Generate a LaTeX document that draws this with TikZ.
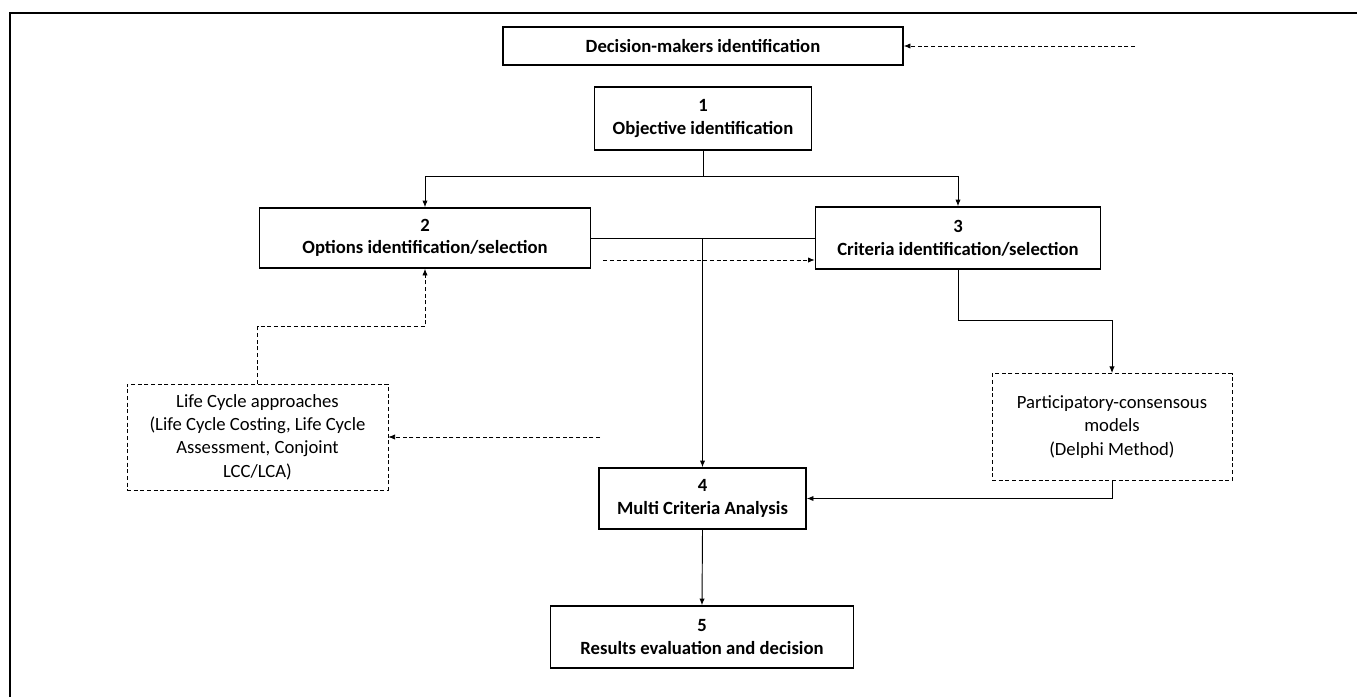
\documentclass[tikz,border=0pt]{standalone}
\usepackage{fontspec}
\setmainfont{Carlito}
\usepackage{tikz}
\usetikzlibrary{arrows.meta}
\usetikzlibrary{positioning}
\tikzset{
    stepbox/.style = {draw,line width=1.2pt,align=center,inner sep=0,font=\fontsize{14}{17}\selectfont\bfseries},
    toolbox/.style = {draw,densely dashed,line width=0.6pt,align=center,inner sep=0,font=\fontsize{14}{17.5}\selectfont}
}
\tikzset{
    flow/.style = {line width=0.7pt,-{Latex[length=5pt,width=4pt]}},
    hint/.style = {line width=0.6pt,densely dashed,-{Latex[length=5pt,width=4pt]}},
    frame/.style = {line width=1.5pt}
}

\begin{document}
\begin{tikzpicture}[x=0.75pt,y=-0.75pt]
    \useasboundingbox (0,0) rectangle (1357,697);
    \draw[frame] (10,697) -- (10,13) -- (1357,13);
    % Steps
    \node[stepbox,minimum width=300pt,minimum height=28.5pt] (dm) at (703,46) {Decision-makers identification};
    \node[stepbox,minimum width=162.75pt,minimum height=47.25pt] (obj) at (703,118.5) {1\\Objective identification};
    \node[stepbox,minimum width=248.25pt,minimum height=45pt] (opt) at (425,238) {2\\Options identification/selection};
    \node[stepbox,minimum width=213.75pt,minimum height=46.5pt] (crit) at (958,238) {3\\Criteria identification/selection};
    \node[stepbox,minimum width=155.25pt,minimum height=45.75pt] (mca) at (702.5,498.5) {4\\Multi Criteria Analysis};
    \node[stepbox,minimum width=227.25pt,minimum height=46.5pt] (res) at (702,637) {5\\Results evaluation and decision};
    % Supporting methods
    \node[toolbox,minimum width=195.75pt,minimum height=79.5pt] (lca) at (257.5,437) {Life Cycle approaches\\(Life Cycle Costing, Life Cycle\\Assessment, Conjoint\\LCC/LCA)};
    \node[toolbox,minimum width=180pt,minimum height=80.25pt] (pcm) at (1112,427) {Participatory-consensous\\models\\(Delphi Method)};
    % Junctions and loose ends
    \coordinate (split) at (obj.south |- 0,176);
    \coordinate (mid) at (opt.east -| mca.north);
    \coordinate (dmtail) at (1135,46);
    \coordinate (lcatail) at (600,437);
    % Solid links
    \draw[line width=0.7pt] (obj.south) -- (split);
    \draw[line width=0.7pt] (opt.east) -- (opt.east -| crit.west);
    \foreach \src/\dest in {split/opt.north,split/crit.north}
        \draw[flow] (\src) -| (\dest);
    \foreach \src/\dest in {mid/mca.north,mca.south/res.north}
        \draw[flow] (\src) -- (\dest);
    \draw[flow] (crit.south) -- ++(0,51) -| (pcm.north);
    \draw[flow] (pcm.south) |- (mca.east);
    % Dashed links
    \draw[hint] (dmtail) -- (dm.east);
    \draw[hint] ([xshift=9pt,yshift=-16.5pt]opt.east) -- ([yshift=-16.5pt]opt.east -| crit.west);
    \draw[hint] (lca.north) -- ++(0,-57) -| (opt.south);
    \draw[hint] (lcatail) -- (lca.east);
\end{tikzpicture}
\end{document}
